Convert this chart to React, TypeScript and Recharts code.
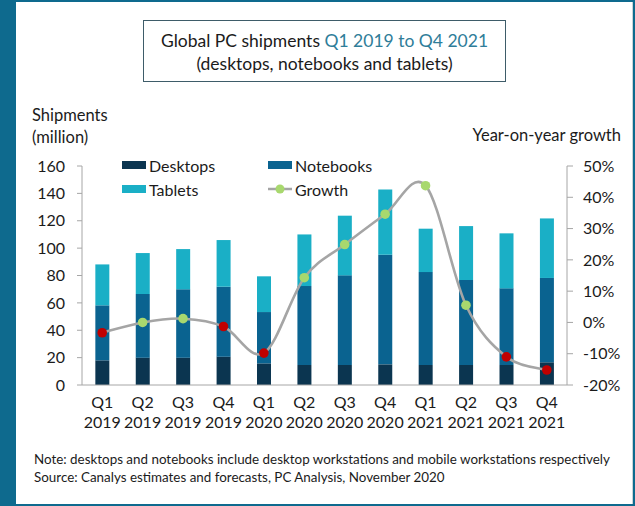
import React from "react";
import {
  Bar,
  ComposedChart,
  Legend,
  Line,
  XAxis,
  YAxis,
} from "recharts";

const quarters = ["Q1", "Q2", "Q3", "Q4", "Q1", "Q2", "Q3", "Q4", "Q1", "Q2", "Q3", "Q4"];
const years = ["2019", "2019", "2019", "2019", "2020", "2020", "2020", "2020", "2021", "2021", "2021", "2021"];
const desktops = [18, 20, 20, 20.7, 15.8, 14.6, 14.6, 15.1, 14.6, 14.6, 14.6, 16.6];
const notebooks = [40.2, 46.5, 49.9, 51.1, 37.5, 57.7, 65.5, 80.1, 67.9, 62.1, 56, 61.6];
const tablets = [29.9, 29.9, 29.4, 34.1, 26.1, 37.7, 43.6, 47.7, 31.7, 39.4, 40.2, 43.5];
const growth = [-3.3, 0, 1.2, -1.3, -9.8, 14.3, 24.9, 34.6, 43.7, 5.5, -11, -15.2];
const leftTicks = [0, 20, 40, 60, 80, 100, 120, 140, 160];
const rightTicks = [-20, -10, 0, 10, 20, 30, 40, 50];
const legendOrder = ["Desktops", "Notebooks", "Tablets", "Growth"];

const data = quarters.map((q, i) => ({
  label: `${q} ${years[i]}`,
  quarter: q,
  year: years[i],
  desktops: desktops[i],
  notebooks: notebooks[i],
  tablets: tablets[i],
  growth: growth[i],
}));

const FONT = "Lato, 'Liberation Sans', sans-serif";
const TEXT = "#1b1b1b";
const AXIS = "#a6a6a6";
const C_DESK = "#0b3550";
const C_NOTE = "#0a6390";
const C_TAB = "#1aafc6";
const C_LINE = "#a5a5a5";
const C_UP = "#a8d86e";
const C_DOWN = "#c00000";

// Excel-style smoothed line (Catmull-Rom through the points)
const excelSmooth = (context: any) => {
  let pts: number[][] = [];
  return {
    areaStart() {},
    areaEnd() {},
    lineStart() {
      pts = [];
    },
    point(x: number, y: number) {
      pts.push([+x, +y]);
    },
    lineEnd() {
      if (!pts.length) return;
      context.moveTo(pts[0][0], pts[0][1]);
      for (let i = 0; i < pts.length - 1; i++) {
        const p0 = pts[Math.max(i - 1, 0)];
        const p1 = pts[i];
        const p2 = pts[i + 1];
        const p3 = pts[Math.min(i + 2, pts.length - 1)];
        context.bezierCurveTo(
          p1[0] + (p2[0] - p0[0]) / 6,
          p1[1] + (p2[1] - p0[1]) / 6,
          p2[0] - (p3[0] - p1[0]) / 6,
          p2[1] - (p3[1] - p1[1]) / 6,
          p2[0],
          p2[1]
        );
      }
    },
  };
};

const GrowthDot = (props: any) => {
  const { cx, cy, payload, index } = props;
  if (cx == null || cy == null) return null;
  return (
    <circle
      key={`dot-${index}`}
      cx={cx}
      cy={cy}
      r={4.8}
      fill={payload.growth >= 0 ? C_UP : C_DOWN}
    />
  );
};

const QuarterTick = (props: any) => {
  const { x, y, index } = props;
  return (
    <text x={x} y={y} textAnchor="middle" fill={TEXT} fontSize={16} fontFamily={FONT}>
      <tspan x={x} dy={15}>{quarters[index]}</tspan>
      <tspan x={x} dy={20}>{years[index]}</tspan>
    </text>
  );
};

const LegendContent = (props: any) => {
  const items = [...(props.payload || [])].sort(
    (a: any, b: any) => legendOrder.indexOf(a.value) - legendOrder.indexOf(b.value)
  );
  return (
    <div
      style={{
        display: "grid",
        gridTemplateColumns: "146px 146px",
        rowGap: 4,
        fontFamily: FONT,
        fontSize: 16,
        color: TEXT,
      }}
    >
      {items.map((it: any) => (
        <div key={it.value} style={{ display: "flex", alignItems: "center", height: 20 }}>
          {it.type === "line" ? (
            <svg width={26} height={12} style={{ marginRight: 1 }}>
              <line x1={0} y1={6} x2={24} y2={6} stroke={C_LINE} strokeWidth={2.5} />
              <circle cx={12} cy={6} r={4.5} fill={C_UP} />
            </svg>
          ) : (
            <span
              style={{
                display: "inline-block",
                width: 24,
                height: 8,
                background: it.color,
                marginRight: 3,
              }}
            />
          )}
          <span>{it.value}</span>
        </div>
      ))}
    </div>
  );
};

export default function App() {
  return (
    <div
      style={{
        position: "absolute",
        left: 0,
        top: 0,
        width: 635,
        height: 506,
        background: "#0e6a8e",
        fontFamily: FONT,
      }}
    >
      <div
        style={{
          position: "absolute",
          left: 16,
          top: 2,
          width: 616,
          height: 502,
          background: "#ffffff",
          borderRight: "1px solid #c9d3d8",
        }}
      />
      <ComposedChart
        width={635}
        height={506}
        data={data}
        margin={{ top: 166, right: 0, bottom: 0, left: 0 }}
        barCategoryGap="33%"
        style={{ position: "absolute", left: 0, top: 0 }}
      >
        <XAxis
          dataKey="label"
          height={121}
          tick={<QuarterTick />}
          tickLine={false}
          axisLine={{ stroke: AXIS }}
          interval={0}
        />
        <YAxis
          yAxisId="left"
          width={82}
          domain={[0, 160]}
          ticks={leftTicks}
          tickSize={5}
          tickMargin={12}
          tickLine={{ stroke: AXIS }}
          axisLine={{ stroke: AXIS }}
          tick={{ fill: TEXT, fontSize: 16, fontFamily: FONT }}
        />
        <YAxis
          yAxisId="right"
          orientation="right"
          width={68}
          domain={[-20, 50]}
          ticks={rightTicks}
          tickSize={6}
          tickMargin={10}
          tickFormatter={(v) => `${v}%`}
          tickLine={{ stroke: AXIS }}
          axisLine={{ stroke: AXIS }}
          tick={{ fill: TEXT, fontSize: 16, fontFamily: FONT, textAnchor: "start" }}
        />
        <Legend
          layout="horizontal"
          verticalAlign="middle"
          align="center"
          content={<LegendContent />}
          wrapperStyle={{ left: 122, top: 155, width: 300 }}
        />
        <Bar yAxisId="left" dataKey="desktops" name="Desktops" stackId="s" fill={C_DESK} isAnimationActive={false} />
        <Bar yAxisId="left" dataKey="notebooks" name="Notebooks" stackId="s" fill={C_NOTE} isAnimationActive={false} />
        <Bar yAxisId="left" dataKey="tablets" name="Tablets" stackId="s" fill={C_TAB} isAnimationActive={false} />
        <Line
          yAxisId="right"
          dataKey="growth"
          name="Growth"
          type={excelSmooth as any}
          stroke={C_LINE}
          strokeWidth={2.6}
          dot={<GrowthDot />}
          activeDot={false}
          legendType="line"
          isAnimationActive={false}
        />
      </ComposedChart>
      <div
        style={{
          position: "absolute",
          left: 143,
          top: 20,
          width: 363,
          height: 62,
          border: "1.5px solid #3e5c69",
          textAlign: "center",
          fontSize: 17.5,
          lineHeight: "23px",
          color: TEXT,
          paddingTop: 8,
          boxSizing: "border-box",
        }}
      >
        <div>
          Global PC shipments <span style={{ color: "#2f7d99" }}>Q1 2019 to Q4 2021</span>
        </div>
        <div>(desktops, notebooks and tablets)</div>
      </div>
      <div style={{ position: "absolute", left: 32, top: 104, fontSize: 16.5, lineHeight: "22px", color: TEXT }}>
        Shipments
        <br />
        (million)
      </div>
      <div
        style={{
          position: "absolute",
          right: 14,
          top: 124,
          fontSize: 16.5,
          lineHeight: "22px",
          color: TEXT,
        }}
      >
        Year-on-year growth
      </div>
      <div style={{ position: "absolute", left: 34, top: 450, fontSize: 13.4, lineHeight: "18px", color: TEXT }}>
        Note: desktops and notebooks include desktop workstations and mobile workstations respectively
        <br />
        Source: Canalys estimates and forecasts, PC Analysis, November 2020
      </div>
    </div>
  );
}
